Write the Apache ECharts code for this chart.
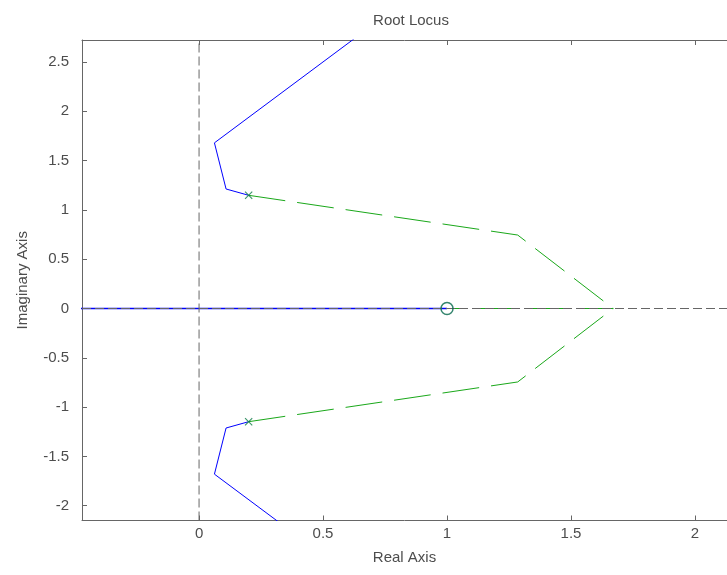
<!DOCTYPE html>
<html>
<head>
<meta charset="utf-8">
<script src="https://cdn.jsdelivr.net/npm/echarts@6/dist/echarts.min.js"></script>
<style>
  html, body { margin: 0; padding: 0; background: #ffffff; }
  #chart { width: 727px; height: 575px; }
</style>
</head>
<body>
<div id="chart"></div>
<script>
// Axis limits and tick values
const xLimits = [-0.472, 2.129];
const yLimits = [-2.15, 2.723];
const xTicks = [0, 0.5, 1, 1.5, 2];
const yTicks = [-2, -1.5, -1, -0.5, 0, 0.5, 1, 1.5, 2, 2.5];

// Branch 1 (blue): complex poles moving up/down and out, plus the real-axis branch
const blueUpper = [[0.2, 1.148], [0.109, 1.212], [0.062, 1.68], [0.9, 3.25]];
const blueLower = [[0.2, -1.148], [0.109, -1.212], [0.062, -1.68], [0.9, -3.25]];
const blueReal = [[-0.6, 0], [1.0, 0]];

// Branch 2 (green, dashed): from the poles to the break-in point, then to the zero
const greenUpper = [[0.2, 1.148], [1.285, 0.745], [1.67, 0], [1.0, 0]];
const greenLower = [[0.2, -1.148], [1.285, -0.745], [1.67, 0], [1.0, 0]];

// Open-loop poles and zero
const poles = [[0.2, 1.148], [0.2, -1.148]];
const zeros = [[1.0, 0]];

const FONT = 'Liberation Sans';
const AXIS_COLOR = '#666666';
const TEXT_COLOR = '#4d4d4d';
const BLUE = '#0000ff';
const GREEN = '#1aa81a';

const crossPath = 'path://M1,0 L5,4 L9,0 L10,1 L6,5 L10,9 L9,10 L5,6 L1,10 L0,9 L4,5 L0,1 Z';

const chart = echarts.init(document.getElementById('chart'), null, { renderer: 'canvas' });

function lineSeries(data, color, type, z, width) {
  return {
    type: 'line',
    data: data,
    xAxisIndex: 0,
    yAxisIndex: 0,
    symbol: 'none',
    silent: true,
    animation: false,
    z: z,
    lineStyle: { color: color, width: width || 1, type: type }
  };
}

const option = {
  animation: false,
  backgroundColor: '#ffffff',
  title: {
    text: 'Root Locus',
    left: 406,
    top: 8,
    textAlign: 'center',
    textStyle: { fontFamily: FONT, fontSize: 15, fontWeight: 'normal', color: TEXT_COLOR }
  },
  grid: { left: 82, top: 40, right: 0, bottom: 54.5, containLabel: false },
  xAxis: [
    {
      type: 'value',
      position: 'bottom',
      min: xLimits[0],
      max: xLimits[1],
      name: 'Real Axis',
      nameLocation: 'middle',
      nameGap: 30,
      nameTextStyle: { fontFamily: FONT, fontSize: 15, color: TEXT_COLOR },
      axisLine: { show: true, onZero: false, lineStyle: { color: AXIS_COLOR, width: 1 } },
      axisTick: { show: true, inside: true, length: 5, customValues: xTicks, lineStyle: { color: AXIS_COLOR } },
      axisLabel: { show: true, customValues: xTicks, margin: 6, fontFamily: FONT, fontSize: 15, color: TEXT_COLOR },
      splitLine: { show: false }
    },
    {
      type: 'value',
      position: 'top',
      min: xLimits[0],
      max: xLimits[1],
      axisLine: { show: true, onZero: false, lineStyle: { color: AXIS_COLOR, width: 1 } },
      axisTick: { show: true, inside: true, length: 5, customValues: xTicks, lineStyle: { color: AXIS_COLOR } },
      axisLabel: { show: false },
      splitLine: { show: false }
    }
  ],
  yAxis: [
    {
      type: 'value',
      position: 'left',
      min: yLimits[0],
      max: yLimits[1],
      name: 'Imaginary Axis',
      nameLocation: 'middle',
      nameGap: 52,
      nameRotate: 90,
      nameTextStyle: { fontFamily: FONT, fontSize: 15, color: TEXT_COLOR },
      axisLine: { show: true, onZero: false, lineStyle: { color: AXIS_COLOR, width: 1 } },
      axisTick: { show: true, inside: true, length: 5, customValues: yTicks, lineStyle: { color: AXIS_COLOR } },
      axisLabel: { show: true, customValues: yTicks, margin: 13, fontFamily: FONT, fontSize: 15, color: TEXT_COLOR },
      splitLine: { show: false }
    }
  ],
  series: [
    lineSeries(blueReal, BLUE, 'solid', 2, 1.5),
    lineSeries(blueUpper, BLUE, 'solid', 2),
    lineSeries(blueLower, BLUE, 'solid', 2),
    lineSeries(greenUpper, GREEN, [37, 12], 3),
    lineSeries(greenLower, GREEN, [37, 12], 3),
    // dashed reference lines through the origin
    lineSeries([[0, yLimits[0]], [0, yLimits[1]]], '#666666', [9, 4], 4),
    lineSeries([[xLimits[0], 0], [xLimits[1], 0]], '#666666', [9, 4], 4),
    {
      type: 'scatter',
      data: poles,
      symbol: crossPath,
      symbolSize: 8,
      silent: true,
      z: 5,
      itemStyle: { color: '#0b7a45' }
    },
    {
      type: 'scatter',
      data: zeros,
      symbol: 'circle',
      symbolSize: 12,
      silent: true,
      z: 5,
      itemStyle: { color: 'rgba(0,0,0,0)', borderColor: '#00664a', borderWidth: 1.5 }
    }
  ]
};

chart.setOption(option);
</script>
</body>
</html>
